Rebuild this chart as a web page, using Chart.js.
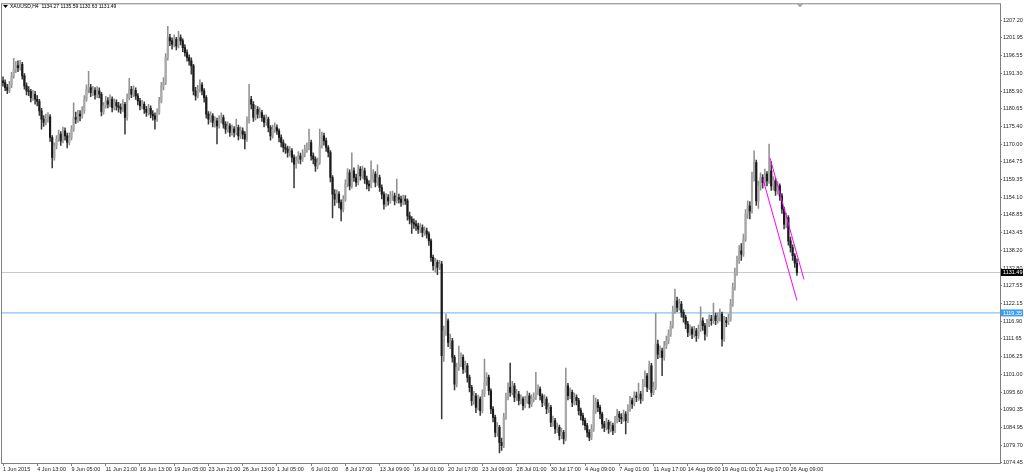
<!DOCTYPE html>
<html>
<head>
<meta charset="utf-8">
<title>XAUUSD,H4</title>
<script src="https://cdn.jsdelivr.net/npm/chart.js@4.4.0/dist/chart.umd.min.js"></script>
<style>
  html, body { margin: 0; padding: 0; background: #fff; overflow: hidden; }
  #wrap { width: 1024px; height: 475px; }
</style>
</head>
<body>
<div id="wrap"><canvas id="chart" width="1024" height="475"></canvas></div>
<script>
const symbolTitle = 'XAUUSD,H4'
const lastOhlc = [1134.27, 1135.59, 1130.63, 1131.49]

// one label every 16 H4 bars
const labelStep = 16
const timeLabels = ['1 Jun 2015', '4 Jun 13:00', '9 Jun 05:00', '11 Jun 21:00', '16 Jun 13:00', '19 Jun 05:00',
    '23 Jun 21:00', '26 Jun 13:00', '1 Jul 05:00', '6 Jul 01:00', '8 Jul 17:00', '13 Jul 09:00', '16 Jul 01:00',
    '20 Jul 17:00', '23 Jul 09:00', '28 Jul 01:00', '30 Jul 17:00', '4 Aug 09:00', '7 Aug 01:00', '11 Aug 17:00',
    '14 Aug 09:00', '19 Aug 01:00', '21 Aug 17:00', '26 Aug 09:00']

const opens = [
    1189.0,1188.5,1187.0,1186.2,1187.8,1190.5,1192.5,1193.6,1193.0,1194.0,1190.5,1187.5,1186.0,1185.8,1184.0,1185.0,
    1183.5,1182.8,1180.0,1177.5,1176.5,1177.8,1178.2,1172.0,1166.0,1169.5,1171.5,1173.0,1171.0,1174.0,1172.5,1170.5,
    1172.0,1174.5,1178.0,1177.5,1179.0,1178.5,1180.0,1183.5,1186.5,1187.0,1185.5,1186.2,1184.8,1186.0,1185.0,1179.8,
    1181.5,1183.0,1182.0,1183.5,1181.0,1182.5,1181.5,1181.0,1180.5,1182.0,1178.0,1184.0,1186.5,1185.0,1186.2,1184.5,
    1183.0,1181.5,1182.0,1180.5,1179.5,1180.8,1179.0,1178.5,1177.5,1179.5,1183.0,1187.5,1188.5,1196.0,1202.0,1201.0,
    1200.0,1201.5,1199.5,1202.0,1201.0,1199.0,1197.5,1196.0,1195.0,1193.5,1186.0,1184.5,1186.5,1187.8,1186.0,1184.0,
    1179.0,1177.5,1178.5,1176.5,1177.0,1175.5,1177.5,1178.0,1176.0,1174.5,1175.5,1173.5,1174.5,1173.5,1175.0,1172.5,
    1174.0,1173.0,1171.5,1177.0,1183.5,1182.0,1178.0,1180.5,1179.0,1179.5,1178.0,1176.5,1177.5,1175.0,1172.5,1174.5,
    1175.0,1174.0,1172.0,1170.5,1169.0,1168.5,1167.5,1168.0,1166.0,1164.0,1165.0,1166.5,1165.5,1167.0,1168.5,1169.0,
    1170.5,1166.5,1165.5,1163.5,1164.5,1169.5,1172.5,1171.0,1169.0,1167.5,1160.0,1155.0,1153.5,1155.0,1152.5,1150.5,
    1153.5,1158.0,1161.5,1157.5,1162.0,1160.0,1158.5,1162.5,1160.5,1162.0,1159.5,1158.0,1157.5,1159.5,1161.0,1158.5,
    1160.0,1157.0,1155.0,1152.0,1154.0,1153.0,1154.5,1154.5,1153.0,1154.0,1153.5,1152.5,1153.5,1153.0,1148.5,1147.5,
    1146.5,1146.0,1145.5,1144.5,1145.0,1143.5,1144.0,1143.0,1141.0,1136.0,1133.5,1134.5,1133.0,1134.0,1106.5,1114.0,
    1117.0,1110.5,1111.0,1106.0,1098.0,1103.0,1104.0,1106.0,1102.5,1103.5,1100.0,1097.0,1093.0,1094.5,1091.0,1093.5,
    1090.0,1095.0,1098.5,1100.0,1096.0,1090.5,1088.0,1083.5,1085.0,1080.5,1079.5,1088.0,1094.0,1097.0,1095.5,1097.5,
    1094.0,1095.0,1093.0,1093.5,1091.5,1093.0,1094.5,1092.0,1093.5,1094.0,1095.5,1096.5,1094.5,1092.5,1093.5,1090.5,
    1091.0,1086.5,1087.0,1084.5,1085.0,1082.5,1083.5,1081.5,1097.5,1094.5,1095.5,1092.5,1094.0,1093.0,1090.0,1088.5,
    1087.0,1085.5,1083.5,1082.0,1084.5,1090.0,1092.5,1091.0,1089.0,1086.0,1085.0,1086.5,1084.5,1085.5,1084.0,1087.0,
    1089.0,1088.0,1087.5,1089.0,1087.0,1090.5,1093.0,1092.0,1094.5,1094.0,1095.0,1093.5,1098.0,1100.5,1097.0,1103.5,
    1095.5,1097.0,1110.0,1107.0,1108.0,1106.0,1109.5,1111.0,1113.0,1115.5,1120.0,1123.0,1121.0,1122.0,1119.5,1118.0,
    1116.0,1113.5,1114.5,1113.0,1114.0,1112.5,1114.5,1117.0,1115.5,1113.0,1116.0,1117.5,1117.0,1118.5,1117.0,1118.0,
    1119.0,1111.5,1117.0,1116.5,1117.5,1122.0,1127.0,1131.5,1135.0,1138.0,1137.0,1141.5,1149.0,1151.5,1150.0,1160.0,
    1164.5,1153.0,1157.5,1160.0,1158.5,1161.0,1159.0,1162.0,1157.5,1159.0,1156.0,1157.5,1154.5,1150.5,1146.0,1148.0,
    1141.0,1139.0,1136.5,1134.27]

const highs = [
    1190.2,1189.3,1188.0,1188.9,1191.6,1195.8,1194.8,1195.0,1195.2,1194.6,1191.2,1188.4,1187.3,1186.5,1186.2,1185.9,
    1184.6,1183.5,1180.8,1178.6,1179.0,1179.5,1178.9,1172.6,1170.4,1172.6,1174.2,1173.8,1175.1,1174.9,1173.3,1173.4,
    1175.6,1182.4,1179.6,1180.2,1180.1,1181.3,1184.6,1187.8,1191.9,1188.0,1187.4,1187.0,1187.3,1186.9,1185.6,1182.6,
    1184.4,1184.0,1184.8,1184.2,1183.6,1183.3,1182.6,1182.1,1183.4,1182.6,1185.1,1189.8,1187.4,1187.5,1186.9,1185.2,
    1183.8,1183.2,1182.7,1181.4,1182.0,1181.5,1180.1,1179.4,1180.6,1184.1,1188.6,1190.0,1197.2,1205.4,1203.0,1201.9,
    1202.8,1202.1,1203.9,1202.8,1201.6,1199.9,1198.3,1196.8,1195.9,1194.0,1187.1,1187.7,1189.3,1188.5,1186.7,1184.6,
    1179.8,1179.7,1179.2,1178.3,1177.8,1178.6,1179.4,1178.7,1176.8,1176.7,1176.2,1175.8,1175.3,1177.5,1175.7,1175.2,
    1174.9,1173.8,1178.2,1188.0,1184.4,1182.8,1181.7,1181.3,1180.9,1180.2,1178.7,1178.8,1178.1,1175.6,1175.7,1176.4,
    1175.8,1174.6,1172.8,1171.3,1170.1,1169.4,1169.3,1168.7,1166.8,1166.3,1167.8,1167.3,1168.3,1169.7,1170.4,1174.5,
    1171.2,1167.4,1166.2,1165.8,1174.5,1173.6,1173.3,1171.8,1169.6,1168.1,1160.6,1156.4,1156.3,1155.8,1153.3,1154.6,
    1159.3,1162.7,1162.3,1167.4,1162.9,1161.0,1163.7,1163.3,1163.4,1162.8,1160.4,1159.1,1165.0,1162.4,1161.8,1163.8,
    1160.7,1157.8,1155.7,1155.2,1154.9,1155.8,1155.9,1155.3,1159.5,1155.0,1154.4,1154.7,1154.6,1153.6,1149.6,1148.3,
    1147.6,1147.1,1146.3,1146.2,1145.8,1145.2,1144.8,1143.7,1141.6,1136.7,1135.7,1135.2,1135.1,1134.8,1115.4,1119.0,
    1117.6,1113.0,1111.7,1106.6,1104.3,1109.4,1107.4,1106.8,1104.9,1104.2,1100.7,1097.6,1095.8,1095.2,1094.7,1094.2,
    1096.3,1105.5,1101.4,1100.7,1096.6,1091.2,1088.7,1086.4,1085.6,1081.8,1089.2,1095.3,1098.4,1104.3,1098.8,1098.2,
    1096.4,1095.8,1094.8,1094.2,1094.3,1095.9,1095.3,1094.8,1095.4,1101.5,1097.8,1097.2,1095.1,1094.8,1094.2,1092.3,
    1091.6,1088.4,1087.7,1086.3,1085.7,1084.8,1084.1,1102.8,1098.2,1096.9,1096.2,1095.3,1094.8,1093.7,1090.8,1089.3,
    1087.8,1086.2,1084.3,1085.8,1094.6,1093.8,1093.3,1091.7,1089.6,1086.8,1087.7,1087.2,1086.8,1086.3,1088.3,1090.4,
    1089.8,1089.1,1090.2,1089.7,1091.8,1094.3,1093.8,1095.7,1095.6,1098.3,1095.8,1099.4,1102.0,1101.2,1104.9,1104.2,
    1098.6,1119.3,1111.2,1109.5,1108.8,1110.8,1112.4,1114.3,1116.8,1121.4,1126.5,1124.1,1123.5,1122.8,1120.3,1118.7,
    1116.8,1115.8,1115.2,1115.3,1114.7,1115.8,1121.2,1117.9,1116.2,1117.4,1118.8,1118.6,1122.3,1119.3,1119.4,1120.6,
    1119.6,1118.3,1118.0,1119.0,1123.4,1128.3,1132.8,1136.4,1139.6,1140.2,1143.0,1150.4,1153.0,1152.8,1161.6,1168.0,
    1165.2,1158.9,1161.4,1160.9,1162.5,1161.8,1170.0,1164.8,1160.3,1159.7,1158.8,1158.1,1155.2,1151.1,1149.3,1148.6,
    1142.1,1139.8,1137.2,1135.59]

const lows = [
    1187.4,1186.1,1185.2,1185.5,1187.0,1189.8,1191.5,1191.8,1192.2,1189.5,1186.5,1184.8,1184.6,1182.7,1183.1,1182.0,
    1181.5,1178.6,1174.5,1175.3,1175.8,1176.6,1170.8,1162.9,1165.2,1168.6,1170.8,1169.6,1170.4,1171.2,1168.9,1169.8,
    1171.3,1173.8,1176.2,1176.5,1177.0,1177.8,1179.2,1182.8,1185.4,1184.3,1184.6,1183.5,1184.0,1183.9,1178.5,1179.0,
    1180.8,1180.9,1181.2,1179.7,1180.3,1180.2,1179.6,1179.2,1179.8,1173.0,1177.2,1183.3,1184.0,1184.3,1183.4,1181.8,
    1180.3,1180.6,1179.2,1178.3,1178.7,1177.9,1177.2,1174.5,1176.8,1178.9,1182.4,1186.3,1187.9,1195.2,1199.6,1198.5,
    1199.2,1198.3,1198.9,1199.8,1197.8,1196.4,1194.9,1193.7,1191.0,1184.8,1183.2,1183.9,1185.6,1184.8,1182.6,1177.8,
    1176.0,1176.6,1175.2,1175.1,1170.1,1174.8,1176.4,1174.8,1173.2,1173.6,1172.3,1172.7,1172.2,1172.8,1171.3,1171.7,
    1171.6,1168.6,1170.8,1176.3,1180.6,1176.8,1177.3,1177.8,1177.9,1176.8,1175.2,1175.6,1173.7,1171.2,1171.8,1173.5,
    1172.9,1170.7,1169.2,1167.7,1167.2,1166.1,1166.4,1164.6,1156.9,1162.8,1164.2,1164.1,1164.8,1166.2,1167.5,1168.3,
    1165.2,1164.1,1161.8,1162.6,1163.9,1168.8,1169.7,1167.8,1166.2,1158.7,1147.9,1151.6,1152.4,1150.9,1147.0,1149.7,
    1152.8,1157.2,1156.3,1156.8,1158.8,1157.3,1157.8,1159.2,1159.7,1158.2,1156.6,1156.0,1156.9,1158.6,1157.2,1157.6,
    1155.8,1153.6,1150.5,1151.3,1151.7,1152.2,1153.1,1151.8,1152.4,1152.3,1151.3,1151.8,1151.9,1147.2,1146.1,1143.2,
    1144.7,1144.1,1143.2,1143.4,1142.2,1142.6,1141.8,1139.6,1134.8,1132.2,1131.6,1130.8,1132.3,1087.5,1104.8,1112.6,
    1109.2,1108.6,1104.6,1096.2,1097.1,1102.1,1103.2,1101.2,1101.5,1098.6,1095.6,1091.6,1091.9,1089.4,1090.2,1088.6,
    1089.3,1094.2,1097.6,1094.7,1089.1,1086.6,1082.1,1082.3,1077.3,1078.1,1078.9,1087.4,1093.2,1094.3,1094.7,1092.7,
    1093.1,1091.7,1092.0,1090.2,1090.8,1092.2,1090.8,1091.2,1092.6,1093.3,1094.7,1093.2,1091.2,1091.6,1089.1,1089.4,
    1085.2,1085.3,1083.2,1083.4,1081.2,1081.6,1080.0,1080.9,1093.2,1093.6,1091.2,1091.7,1091.7,1088.7,1087.2,1085.7,
    1084.2,1082.1,1081.0,1081.3,1083.8,1089.2,1089.7,1087.6,1084.7,1083.7,1084.2,1083.2,1083.6,1082.8,1083.4,1086.3,
    1086.7,1086.1,1086.8,1083.0,1086.4,1089.8,1090.7,1091.4,1092.7,1093.1,1092.2,1092.9,1097.2,1095.7,1096.4,1094.2,
    1094.8,1096.3,1105.6,1105.9,1100.5,1105.2,1108.6,1110.1,1112.3,1114.8,1119.2,1119.7,1120.2,1118.1,1116.6,1114.6,
    1112.2,1112.6,1111.6,1112.1,1110.8,1111.7,1113.8,1114.1,1111.2,1112.3,1115.2,1115.7,1116.2,1115.8,1116.3,1116.9,
    1109.4,1110.8,1115.2,1115.8,1116.9,1121.3,1126.2,1130.6,1134.2,1135.1,1136.3,1140.8,1147.7,1147.6,1149.3,1158.9,
    1151.6,1150.7,1156.2,1156.8,1157.6,1157.5,1158.2,1156.1,1156.2,1154.6,1155.0,1153.1,1149.2,1144.6,1144.9,1139.7,
    1137.6,1135.1,1133.0,1130.63]

const closes = [
    1188.5,1187.0,1186.2,1187.8,1190.5,1192.5,1193.6,1193.0,1194.0,1190.5,1187.5,1186.0,1185.8,1184.0,1185.0,1183.5,
    1182.8,1180.0,1177.5,1176.5,1177.8,1178.2,1172.0,1166.0,1169.5,1171.5,1173.0,1171.0,1174.0,1172.5,1170.5,1172.0,
    1174.5,1178.0,1177.5,1179.0,1178.5,1180.0,1183.5,1186.5,1187.0,1185.5,1186.2,1184.8,1186.0,1185.0,1179.8,1181.5,
    1183.0,1182.0,1183.5,1181.0,1182.5,1181.5,1181.0,1180.5,1182.0,1178.0,1184.0,1186.5,1185.0,1186.2,1184.5,1183.0,
    1181.5,1182.0,1180.5,1179.5,1180.8,1179.0,1178.5,1177.5,1179.5,1183.0,1187.5,1188.5,1196.0,1202.0,1201.0,1200.0,
    1201.5,1199.5,1202.0,1201.0,1199.0,1197.5,1196.0,1195.0,1193.5,1186.0,1184.5,1186.5,1187.8,1186.0,1184.0,1179.0,
    1177.5,1178.5,1176.5,1177.0,1175.5,1177.5,1178.0,1176.0,1174.5,1175.5,1173.5,1174.5,1173.5,1175.0,1172.5,1174.0,
    1173.0,1171.5,1177.0,1183.5,1182.0,1178.0,1180.5,1179.0,1179.5,1178.0,1176.5,1177.5,1175.0,1172.5,1174.5,1175.0,
    1174.0,1172.0,1170.5,1169.0,1168.5,1167.5,1168.0,1166.0,1164.0,1165.0,1166.5,1165.5,1167.0,1168.5,1169.0,1170.5,
    1166.5,1165.5,1163.5,1164.5,1169.5,1172.5,1171.0,1169.0,1167.5,1160.0,1155.0,1153.5,1155.0,1152.5,1150.5,1153.5,
    1158.0,1161.5,1157.5,1162.0,1160.0,1158.5,1162.5,1160.5,1162.0,1159.5,1158.0,1157.5,1159.5,1161.0,1158.5,1160.0,
    1157.0,1155.0,1152.0,1154.0,1153.0,1154.5,1154.5,1153.0,1154.0,1153.5,1152.5,1153.5,1153.0,1148.5,1147.5,1146.5,
    1146.0,1145.5,1144.5,1145.0,1143.5,1144.0,1143.0,1141.0,1136.0,1133.5,1134.5,1133.0,1134.0,1106.5,1114.0,1117.0,
    1110.5,1111.0,1106.0,1098.0,1103.0,1104.0,1106.0,1102.5,1103.5,1100.0,1097.0,1093.0,1094.5,1091.0,1093.5,1090.0,
    1095.0,1098.5,1100.0,1096.0,1090.5,1088.0,1083.5,1085.0,1080.5,1079.5,1088.0,1094.0,1097.0,1095.5,1097.5,1094.0,
    1095.0,1093.0,1093.5,1091.5,1093.0,1094.5,1092.0,1093.5,1094.0,1095.5,1096.5,1094.5,1092.5,1093.5,1090.5,1091.0,
    1086.5,1087.0,1084.5,1085.0,1082.5,1083.5,1081.5,1097.5,1094.5,1095.5,1092.5,1094.0,1093.0,1090.0,1088.5,1087.0,
    1085.5,1083.5,1082.0,1084.5,1090.0,1092.5,1091.0,1089.0,1086.0,1085.0,1086.5,1084.5,1085.5,1084.0,1087.0,1089.0,
    1088.0,1087.5,1089.0,1087.0,1090.5,1093.0,1092.0,1094.5,1094.0,1095.0,1093.5,1098.0,1100.5,1097.0,1103.5,1095.5,
    1097.0,1110.0,1107.0,1108.0,1106.0,1109.5,1111.0,1113.0,1115.5,1120.0,1123.0,1121.0,1122.0,1119.5,1118.0,1116.0,
    1113.5,1114.5,1113.0,1114.0,1112.5,1114.5,1117.0,1115.5,1113.0,1116.0,1117.5,1117.0,1118.5,1117.0,1118.0,1119.0,
    1111.5,1117.0,1116.5,1117.5,1122.0,1127.0,1131.5,1135.0,1138.0,1137.0,1141.5,1149.0,1151.5,1150.0,1160.0,1164.5,
    1153.0,1157.5,1160.0,1158.5,1161.0,1159.0,1162.0,1157.5,1159.0,1156.0,1157.5,1154.5,1150.5,1146.0,1148.0,1141.0,
    1139.0,1136.5,1134.3,1131.49]

// right price scale
const priceTicks = [1074.45, 1079.70, 1084.95, 1090.35, 1095.60, 1101.00, 1106.25, 1111.65, 1116.90, 1122.15,
    1127.55, 1132.80, 1138.20, 1143.45, 1148.85, 1154.10, 1159.35, 1164.75, 1170.00, 1175.40, 1180.65, 1185.90,
    1191.30, 1196.55, 1201.95, 1207.20]

const bidLine = 1131.49
const levelLine = 1119.35

// trend lines: [bar index, price]
const trendUpper = [[358.4, 1165.9], [374.3, 1129.4]]
const trendLower = [[355.1, 1159.6], [371.0, 1123.1]]

if (opens.length !== closes.length || highs.length !== closes.length || lows.length !== closes.length) {
    throw new Error('length mismatch ' + [opens.length, highs.length, lows.length, closes.length].join(','))
}

const fontFamily = '"Liberation Sans", Arial, sans-serif'
const isBull = i => closes[i] >= opens[i]

const overlay = {
    id: 'overlay',
    beforeDraw(chart) {
        const ctx = chart.ctx
        ctx.save()
        ctx.fillStyle = '#fff'
        ctx.fillRect(0, 0, chart.width, chart.height)
        ctx.restore()
    },
    afterDraw(chart) {
        const { ctx, chartArea: a, scales: { y } } = chart
        ctx.save()
        // frame
        ctx.strokeStyle = '#808080'
        ctx.lineWidth = 1
        ctx.strokeRect(a.left - 0.5, a.top - 0.5, a.right - a.left + 1, a.bottom - a.top + 1)

        // header
        ctx.fillStyle = '#000'
        ctx.beginPath()
        ctx.moveTo(3, 5)
        ctx.lineTo(8, 5)
        ctx.lineTo(5.5, 8)
        ctx.closePath()
        ctx.fill()
        ctx.font = '5px ' + fontFamily
        ctx.textBaseline = 'middle'
        ctx.textAlign = 'left'
        ctx.fillText(symbolTitle + '  ' + lastOhlc.map(v => v.toFixed(2)).join(' '), 10, 7)

        // chart shift marker
        ctx.fillStyle = '#a0a0a0'
        ctx.beginPath()
        ctx.moveTo(797, a.top)
        ctx.lineTo(803, a.top)
        ctx.lineTo(800, a.top + 3)
        ctx.closePath()
        ctx.fill()

        // price boxes
        ctx.font = '5.5px ' + fontFamily
        const boxes = [[levelLine, '#3d9df2'], [bidLine, '#000']]
        boxes.forEach(([v, col]) => {
            const py = y.getPixelForValue(v)
            ctx.fillStyle = col
            ctx.fillRect(a.right + 1, py - 3.5, 22, 7)
            ctx.fillStyle = '#fff'
            ctx.fillText(v.toFixed(2), a.right + 3, py + 0.3)
        })
        ctx.restore()
    }
}

const ctx = document.getElementById('chart').getContext('2d')

new Chart(ctx, {
    type: 'bar',
    data: {
        datasets: [
            {
                type: 'line',
                data: trendUpper.map(p => ({ x: p[0], y: p[1] })),
                borderColor: '#ff00ff',
                borderWidth: 1,
                pointRadius: 0,
                order: 0
            },
            {
                type: 'line',
                data: trendLower.map(p => ({ x: p[0], y: p[1] })),
                borderColor: '#ff00ff',
                borderWidth: 1,
                pointRadius: 0,
                order: 0
            },
            {
                label: 'body',
                data: closes.map((c, i) => ({ x: i, y: [opens[i], c] })),
                backgroundColor: c => isBull(c.dataIndex) ? '#a8a8a8' : '#1a1a1a',
                barThickness: 1.5,
                grouped: false,
                order: 1
            },
            {
                label: 'wick',
                data: closes.map((c, i) => ({ x: i, y: [lows[i], highs[i]] })),
                backgroundColor: c => isBull(c.dataIndex) ? '#909090' : '#3a3a3a',
                barThickness: 0.9,
                grouped: false,
                order: 2
            },
            {
                type: 'line',
                data: [{ x: -1, y: bidLine }, { x: 470, y: bidLine }],
                borderColor: '#c8c8c8',
                borderWidth: 1,
                pointRadius: 0,
                order: 3
            },
            {
                type: 'line',
                data: [{ x: -1, y: levelLine }, { x: 470, y: levelLine }],
                borderColor: '#6fb2f2',
                borderWidth: 1,
                pointRadius: 0,
                order: 3
            }
        ]
    },
    options: {
        responsive: false,
        animation: false,
        events: [],
        layout: { padding: { left: 2, top: 3, right: 0, bottom: 0 } },
        plugins: {
            legend: { display: false },
            tooltip: { enabled: false },
            title: { display: false }
        },
        scales: {
            x: {
                type: 'linear',
                min: -0.47,
                max: 465.9,
                offset: false,
                grid: { display: true, drawOnChartArea: false, drawTicks: true, tickLength: 3, color: '#808080', offset: false },
                border: { display: false },
                afterBuildTicks: s => { s.ticks = timeLabels.map((t, k) => ({ value: k * labelStep })) },
                afterFit: s => { s.height = 12 },
                ticks: {
                    autoSkip: false,
                    maxRotation: 0,
                    align: 'start',
                    padding: 0,
                    color: '#222',
                    font: { size: 5.5, family: fontFamily },
                    callback: v => timeLabels[Math.round(v / labelStep)]
                }
            },
            y: {
                type: 'linear',
                position: 'right',
                min: 1074.3,
                max: 1211.99,
                grid: { display: true, drawOnChartArea: false, drawTicks: true, tickLength: 2, color: '#808080' },
                border: { display: false },
                afterBuildTicks: s => { s.ticks = priceTicks.map(v => ({ value: v })) },
                afterFit: s => { s.width = 24 },
                ticks: {
                    autoSkip: false,
                    padding: 1,
                    color: '#222',
                    font: { size: 5.5, family: fontFamily },
                    callback: v => v.toFixed(2)
                }
            }
        }
    },
    plugins: [overlay]
})
</script>
</body>
</html>
